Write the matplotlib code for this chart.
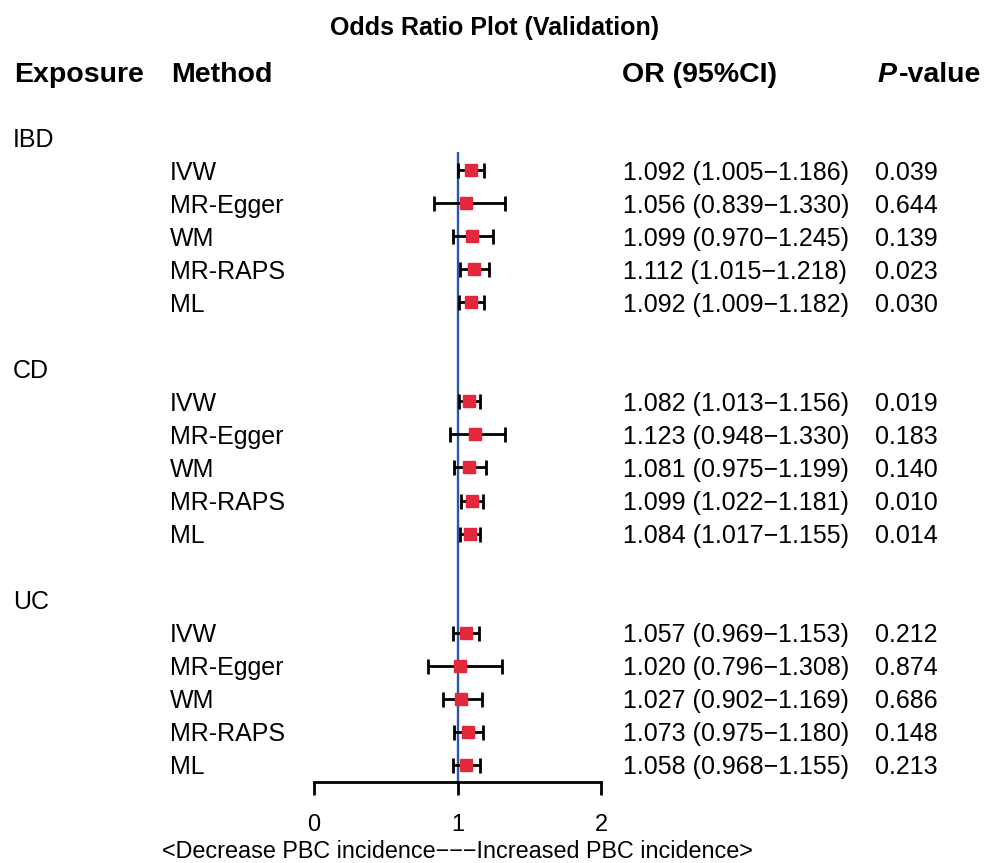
import matplotlib
matplotlib.use("Agg")
import matplotlib.pyplot as plt
from matplotlib import transforms

plt.rcParams['font.family'] = ['Liberation Sans', 'DejaVu Sans']

# data
exposures = ["IBD", "CD", "UC"]
methods = ["IVW", "MR-Egger", "WM", "MR-RAPS", "ML"]

or_ibd = [1.092, 1.056, 1.099, 1.112, 1.092]
lo_ibd = [1.005, 0.839, 0.970, 1.015, 1.009]
hi_ibd = [1.186, 1.330, 1.245, 1.218, 1.182]
p_ibd = [0.039, 0.644, 0.139, 0.023, 0.030]

or_cd = [1.082, 1.123, 1.081, 1.099, 1.084]
lo_cd = [1.013, 0.948, 0.975, 1.022, 1.017]
hi_cd = [1.156, 1.330, 1.199, 1.181, 1.155]
p_cd = [0.019, 0.183, 0.140, 0.010, 0.014]

or_uc = [1.057, 1.020, 1.027, 1.073, 1.058]
lo_uc = [0.969, 0.796, 0.902, 0.975, 0.968]
hi_uc = [1.153, 1.308, 1.169, 1.180, 1.155]
p_uc = [0.212, 0.874, 0.686, 0.148, 0.213]

or_vals = [or_ibd, or_cd, or_uc]
lo_vals = [lo_ibd, lo_cd, lo_uc]
hi_vals = [hi_ibd, hi_cd, hi_uc]
p_vals = [p_ibd, p_cd, p_uc]

x_ticks = [0, 1, 2]
x_label = "<Decrease PBC incidence\u2212\u2212\u2212Increased PBC incidence>"

W, H = 985, 863
fig = plt.figure(figsize=(W / 100, H / 100), dpi=100)

def fx(px):
    return px / W

def fy(py):
    return 1 - py / H

# forest panel: pixels 314..601 wide, 152..782 tall
ax = fig.add_axes([fx(314), fy(782), fx(601) - fx(314), fy(152) - fy(782)])
ax.set_xlim(0, 2)
ax.set_ylim(19.52, 0.45)

txt = transforms.blended_transform_factory(fig.transFigure, ax.transData)
body_fs = 18

ax.axvline(1, color='#2A58A8', lw=1.7, zorder=1)

for i, exp in enumerate(exposures):
    base = 7 * i
    ax.text(fx(13), base, exp, transform=txt, fontsize=body_fs, va='center_baseline', ha='left')
    for j, m in enumerate(methods):
        row = base + 1 + j
        est = or_vals[i][j]
        lo = lo_vals[i][j]
        hi = hi_vals[i][j]
        ax.errorbar(est, row, xerr=[[est - lo], [hi - est]], fmt='none',
                    ecolor='black', elinewidth=2, capsize=5.4, capthick=2, zorder=2)
        ax.plot(est, row, marker='s', markersize=8.2, color='#E3283C', ls='none', zorder=3)
        ax.text(fx(170), row, m, transform=txt, fontsize=body_fs, va='center_baseline', ha='left')
        ax.text(fx(623), row, f"{est:.3f} ({lo:.3f}\u2212{hi:.3f})", transform=txt,
                fontsize=body_fs, va='center_baseline', ha='left')
        ax.text(fx(875), row, f"{p_vals[i][j]:.3f}", transform=txt,
                fontsize=body_fs, va='center_baseline', ha='left')

for side in ['top', 'right', 'left']:
    ax.spines[side].set_visible(False)
ax.spines['bottom'].set_linewidth(2)
ax.set_yticks([])
ax.set_xticks(x_ticks)
ax.set_xticklabels([str(t) for t in x_ticks])
ax.tick_params(axis='x', direction='out', length=9, width=2, pad=14, labelsize=17)
ax.set_xlabel(x_label, fontsize=16.8, labelpad=3)

# title and column headers
fig.text(fx(495), fy(25), "Odds Ratio Plot (Validation)", fontsize=18, fontweight='bold',
         ha='center', va='center_baseline')
head_fs = 20.5
fig.text(fx(14), fy(72), "Exposure", fontsize=head_fs, fontweight='bold', va='center_baseline')
fig.text(fx(171), fy(72), "Method", fontsize=head_fs, fontweight='bold', va='center_baseline')
fig.text(fx(622), fy(72), "OR (95%CI)", fontsize=head_fs, fontweight='bold', va='center_baseline')
p_txt = fig.text(fx(877), fy(72), "P", fontsize=head_fs, fontweight='bold',
                 fontstyle='italic', va='center_baseline')
fig.canvas.draw()
ax.annotate("-value", xy=(1, 0), xycoords=p_txt, xytext=(2, 0), textcoords='offset points',
            fontsize=head_fs, fontweight='bold', va='bottom', ha='left', annotation_clip=False)

fig.savefig("out.png", dpi=100)
